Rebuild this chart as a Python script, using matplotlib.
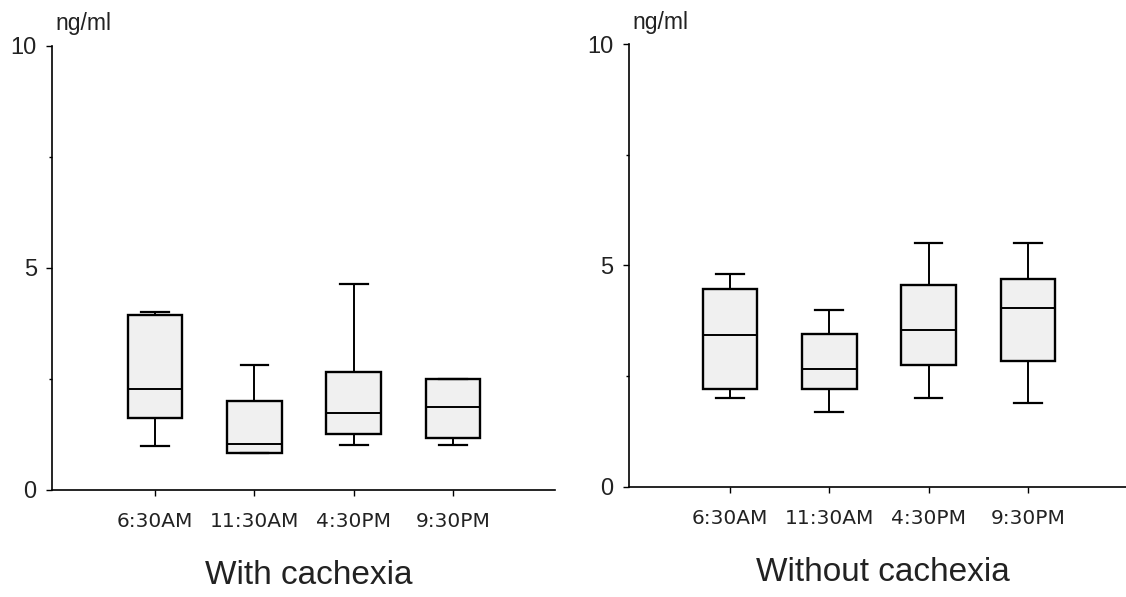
import matplotlib
matplotlib.use("Agg")
import matplotlib.pyplot as plt
from matplotlib.ticker import MultipleLocator

# categories
times = ["6:30AM", "11:30AM", "4:30PM", "9:30PM"]

# with cachexia (ng/ml)
with_whislo = [0.99, 0.82, 1.00, 1.00]
with_q1 = [1.61, 0.82, 1.24, 1.16]
with_med = [2.27, 1.03, 1.73, 1.86]
with_q3 = [3.92, 2.00, 2.64, 2.48]
with_whishi = [4.01, 2.81, 4.64, 2.48]

# without cachexia (ng/ml)
without_whislo = [2.01, 1.69, 2.01, 1.90]
without_q1 = [2.20, 2.20, 2.76, 2.84]
without_med = [3.43, 2.66, 3.55, 4.03]
without_q3 = [4.47, 3.46, 4.56, 4.69]
without_whishi = [4.80, 3.99, 5.50, 5.50]


def make_stats(lo, q1, med, q3, hi):
    return [dict(whislo=a, q1=b, med=c, q3=d, whishi=e, fliers=[])
            for a, b, c, d, e in zip(lo, q1, med, q3, hi)]


def draw_panel(ax, stats, title, xlim):
    pos = range(1, len(times) + 1)
    ax.bxp(stats, positions=pos, widths=0.55, capwidths=0.28,
           showfliers=False, patch_artist=True,
           boxprops=dict(facecolor="#f0f0f0", edgecolor="black", linewidth=1.7),
           medianprops=dict(color="black", linewidth=1.4),
           whiskerprops=dict(color="black", linewidth=1.4),
           capprops=dict(color="black", linewidth=1.6))
    ax.set_xlim(*xlim)
    ax.set_ylim(0, 10)
    ax.set_yticks([0, 5, 10])
    ax.yaxis.set_minor_locator(MultipleLocator(2.5))
    ax.set_xticks(list(pos))
    ax.set_xticklabels(times, fontsize=14.5, family="DejaVu Sans", color="#222222")
    for lbl in ax.get_yticklabels():
        lbl.set_fontsize(17)
        lbl.set_family("Liberation Sans")
        lbl.set_color("#222222")
    ax.tick_params(axis="x", direction="out", length=4, width=1, pad=12)
    ax.tick_params(axis="y", which="major", direction="out", length=4, width=1, pad=7)
    ax.tick_params(axis="y", which="minor", direction="out", length=2, width=1)
    for side in ["top", "right"]:
        ax.spines[side].set_visible(False)
    for side in ["left", "bottom"]:
        ax.spines[side].set_linewidth(1.2)
    ax.annotate("ng/ml", xy=(0, 1), xycoords="axes fraction", xytext=(3, 22),
                textcoords="offset pixels", ha="left", va="center",
                fontsize=16.5, family="Liberation Sans", color="#222222")
    ax.annotate(title, xy=(0.5, 0), xycoords="axes fraction", xytext=(5, -86),
                textcoords="offset pixels", ha="center", va="center",
                fontsize=24, family="Liberation Sans", color="#222222")


fig = plt.figure(figsize=(11.26, 5.97), dpi=100)
ax1 = fig.add_axes([0.0462, 0.180, 0.4467, 0.7437])
ax2 = fig.add_axes([0.5586, 0.1848, 0.4414, 0.741])

draw_panel(ax1, make_stats(with_whislo, with_q1, with_med, with_q3, with_whishi),
           "With cachexia", (-0.04, 5.03))
draw_panel(ax2, make_stats(without_whislo, without_q1, without_med, without_q3, without_whishi),
           "Without cachexia", (-0.02, 4.99))

fig.savefig("out.png", dpi=100)
